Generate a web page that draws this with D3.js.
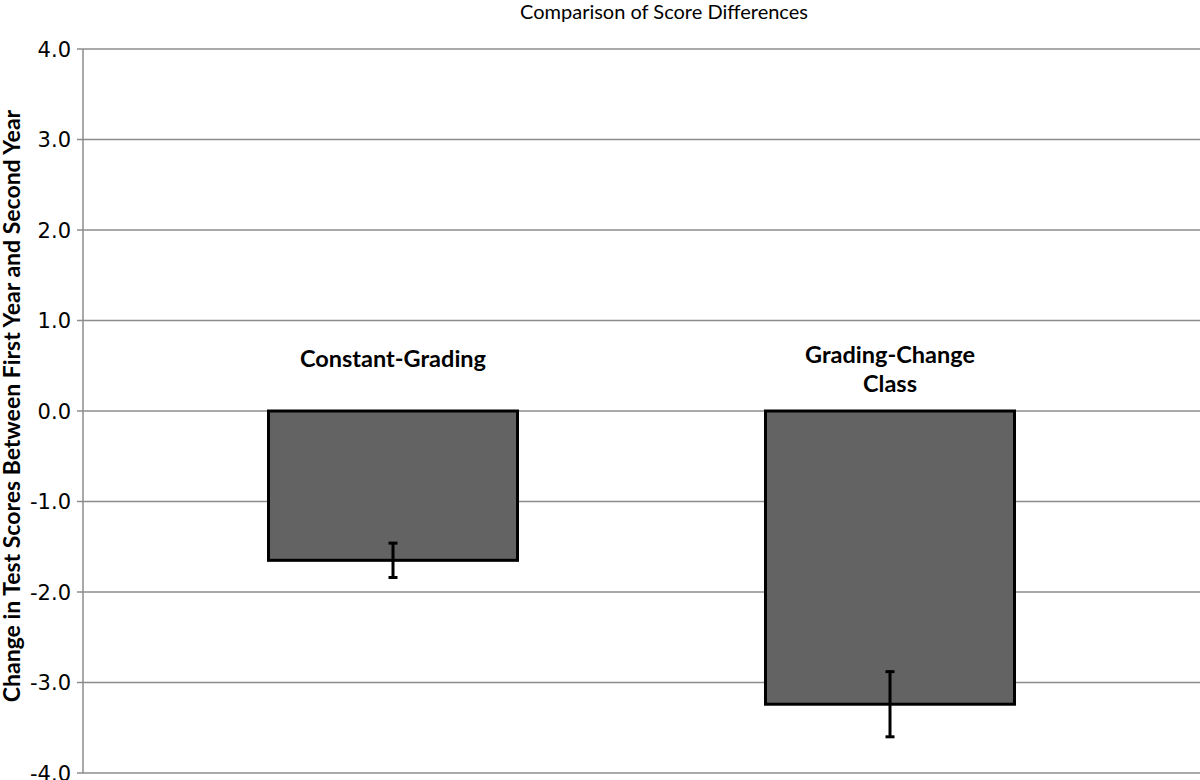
<!DOCTYPE html>
<html><head><meta charset="utf-8">
<script src="https://cdn.jsdelivr.net/npm/d3@7"></script>
<style>body{margin:0;background:#fff}</style>
</head><body>
<svg id="c" width="1200" height="780"></svg>
<script>
const categories = [["Constant-Grading"], ["Grading-Change", "Class"]];
const values = [-1.65, -3.24];
const errors = [0.19, 0.36];
const yTicks = [4, 3, 2, 1, 0, -1, -2, -3, -4];
const titleText = "Comparison of Score Differences";
const yTitle = "Change in Test Scores Between First Year and Second Year";

const svg = d3.select("#c");
const mLeft = 83, mRight = 1200, mTop = 49, mBottom = 773;
const y = d3.scaleLinear().domain([-4, 4]).range([mBottom, mTop]);
const xb = d3.scalePoint().domain(d3.range(categories.length)).range([393, 890]);
const bw = 249;

// gridlines
svg.append("g").selectAll("line").data(yTicks).join("line")
  .attr("x1", mLeft - 6).attr("x2", mRight)
  .attr("y1", d => y(d)).attr("y2", d => y(d))
  .attr("stroke", "#8c8c8c").attr("stroke-width", 1.5);
// axis line
svg.append("line").attr("x1", mLeft).attr("x2", mLeft).attr("y1", mTop).attr("y2", mBottom)
  .attr("stroke", "#8c8c8c").attr("stroke-width", 1.5);
// tick labels
svg.append("g").selectAll("text").data(yTicks).join("text")
  .attr("x", mLeft - 12).attr("y", d => y(d)).attr("dy", "0.36em")
  .attr("text-anchor", "end").attr("font-family", "DejaVu Sans").attr("font-size", 21)
  .attr("fill", "#000").text(d => d3.format(".1f")(d).replace("−", "-"));

// bars
svg.append("g").selectAll("rect").data(values).join("rect")
  .attr("x", (d, i) => xb(i) - bw / 2).attr("width", bw)
  .attr("y", d => y(Math.max(0, d))).attr("height", d => Math.abs(y(d) - y(0)))
  .attr("fill", "#636363").attr("stroke", "#000").attr("stroke-width", 3);

// error bars
const eg = svg.append("g").attr("stroke", "#000").attr("stroke-width", 3);
values.forEach((v, i) => {
  const cx = xb(i);
  eg.append("line").attr("x1", cx).attr("x2", cx).attr("y1", y(v + errors[i])).attr("y2", y(v - errors[i]));
  eg.append("line").attr("x1", cx - 4.5).attr("x2", cx + 4.5).attr("y1", y(v + errors[i])).attr("y2", y(v + errors[i]));
  eg.append("line").attr("x1", cx - 4.5).attr("x2", cx + 4.5).attr("y1", y(v - errors[i])).attr("y2", y(v - errors[i]));
});

// category labels
categories.forEach((lines, i) => {
  const t = svg.append("text").attr("text-anchor", "middle")
    .attr("font-family", "Lato, 'Open Sans', sans-serif").attr("font-weight", "bold")
    .attr("font-size", 23.5).attr("fill", "#000");
  const baseY = lines.length === 1 ? 367 : 363;
  lines.forEach((l, j) => {
    t.append("tspan").attr("x", xb(i)).attr("y", baseY + j * 29).text(l);
  });
});

// title
svg.append("text").attr("x", 664).attr("y", 19).attr("text-anchor", "middle")
  .attr("font-family", "Lato, 'Open Sans', sans-serif").attr("font-size", 20).attr("fill", "#000")
  .text(titleText);

// y title
svg.append("text").attr("transform", "translate(20,406) rotate(-90)")
  .attr("text-anchor", "middle").attr("font-family", "Lato, 'Open Sans', sans-serif")
  .attr("font-weight", "bold").attr("font-size", 23).attr("fill", "#000").text(yTitle);
</script>
</body></html>
